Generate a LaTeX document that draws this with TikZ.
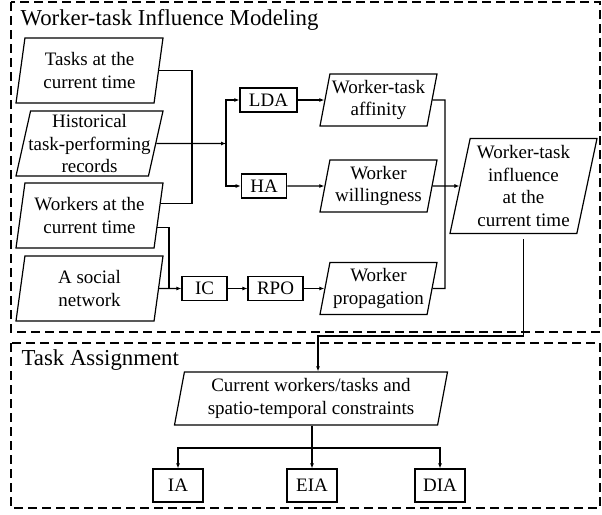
\documentclass[tikz,border=0pt]{standalone}
\usepackage{fontspec}
\setmainfont{Liberation Serif}
\usetikzlibrary{shapes.geometric,arrows.meta,calc}

\begin{document}
\begin{tikzpicture}[x=1pt, y=-1pt, line width=1.2pt,
  every node/.style={font=\fontsize{19}{22.5}\selectfont},
  data/.style={draw, trapezium, trapezium left angle=76, trapezium right angle=104,
    trapezium stretches body, align=center, inner xsep=-8pt, inner ysep=0pt},
  src/.style={data, minimum width=147pt, minimum height=65pt},
  mid/.style={data, minimum width=117pt, minimum height=52pt},
  op/.style={draw, inner xsep=9pt, inner ysep=0pt, minimum height=24pt},
  alg/.style={draw, minimum width=50pt, minimum height=33pt},
  arr/.style={-{Latex[length=5pt,width=4pt]}},
  frame/.style={dash pattern=on 9pt off 5pt, line width=1.3pt},
  head/.style={anchor=base west, inner sep=0pt, font=\fontsize{22.8}{27}\selectfont}]

\useasboundingbox (0,0) rectangle (602,514);

\draw [frame] (11,2) rectangle (600,332);
\draw [frame] (11,343) rectangle (600,508);
\node [head] (modeling) at (20,25) {Worker-task Influence Modeling};
\node [head] (assign) at (21,365) {Task Assignment};

\node [src] (tasks) at (89.5,70.5) {Tasks at the\\current time};
\node [src] (hist) at (89.5,143.5) {Historical\\task-performing\\records};
\node [src] (workers) at (89.5,215.5) {Workers at the\\current time};
\node [src] (social) at (89.5,288.5) {A social\\network};

\node [op] (lda) at (268.5,100) {LDA};
\node [op] (ha) at (264,186) {HA};
\node [op, minimum width=45pt] (ic) at (204.5,288.5) {IC};
\node [op] (rpo) at (275.5,288.5) {RPO};

\node [mid] (aff) at (378.5,100) {Worker-task\\affinity};
\node [mid] (will) at (378.5,186) {Worker\\willingness};
\node [mid] (prop) at (378.5,288.5) {Worker\\propagation};
\node [data, minimum width=147pt, minimum height=95pt] (infl) at (523.5,186)
  {Worker-task\\influence\\at the\\current time};

\node [data, minimum width=273pt, minimum height=53pt] (cur) at (311,398.5)
  {Current workers/tasks and\\spatio-temporal constraints};
\node [alg] (ia) at (178,485.5) {IA};
\node [alg] (eia) at (312,485.5) {EIA};
\node [alg] (dia) at (440,485.5) {DIA};

\coordinate (w1) at ($(workers.top right corner)!0.32!(workers.bottom right corner)$);
\coordinate (w2) at ($(workers.top right corner)!0.68!(workers.bottom right corner)$);
\coordinate (merge) at (192,143.5);
\coordinate (fork) at (226,143.5);
\coordinate (drop) at (169,288.5);
\coordinate (rbus) at (445,288.5);
\coordinate (turn) at (318,336);
\coordinate (split) at (312,448);

\draw (tasks.east) -| (merge) |- (w1);
\draw [arr] (hist.east) -- (fork);
\draw [arr] (fork) |- (lda);
\draw [arr] (fork) |- (ha);
\draw (w2) -| (drop);
\draw [arr] (social.east) -- (ic);
\draw [arr] (ic) -- (rpo);
\draw [arr] (lda) -- (aff);
\draw [arr] (ha) -- (will);
\draw [arr] (rpo) -- (prop);

\draw (aff.east) -| (rbus) -- (prop.east);
\draw [arr] (will.east) -- (infl.west);
\draw [arr, shorten <=5pt] (infl.south) |- (turn) -- (turn |- cur.north);

\draw [arr] (cur.south -| split) -- (eia);
\draw [arr] (split) -| (ia);
\draw [arr] (split) -| (dia);

\end{tikzpicture}
\end{document}
